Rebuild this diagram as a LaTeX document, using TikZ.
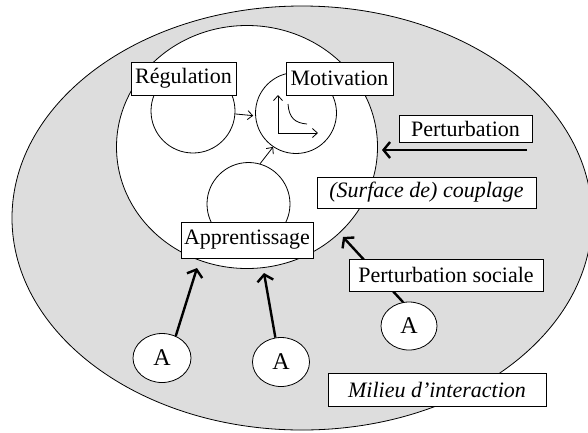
\documentclass[tikz,border=0pt]{standalone}
\usepackage{fontspec}
\setmainfont{Liberation Serif}
\usetikzlibrary{arrows.meta,shapes.geometric}
\definecolor{milieu}{RGB}{221,221,221}
\begin{document}
\begin{tikzpicture}[x=1pt,y=-1pt,
  outline/.style={draw=black,line width=0.8pt},
  labelbox/.style={outline,fill=white,inner sep=0pt,font=\fontsize{22}{26}\selectfont},
  zone/.style={outline,fill=white,circle,inner sep=0pt},
  agent/.style={outline,fill=white,ellipse,inner sep=0pt,font=\fontsize{24}{28}\selectfont},
  thinarrow/.style={line width=0.8pt,-{Straight Barb[length=5pt,width=9pt]}},
  thickarrow/.style={line width=2.4pt,-{Straight Barb[length=6.5pt,width=16pt]}}]
\useasboundingbox (0,0) rectangle (588,432);

% environment and coupling surface
\begin{scope}
  \clip (0,0) rectangle (588,432);
  \draw[outline,fill=milieu] (302,218) ellipse [x radius=290, y radius=212];
\end{scope}
\draw[outline,fill=white] (247,147) ellipse [x radius=130.5, y radius=121.5];

% inner sub-systems
\node[zone,minimum size=84pt] (rc) at (193,111) {};
\node[zone,minimum size=81pt] (mc) at (296,113) {};
\node[zone,minimum size=83pt] (ac) at (248.5,204) {};

% agents
\node[agent,minimum width=58pt,minimum height=49pt] (a1) at (162,358) {A};
\node[agent,minimum width=57pt,minimum height=49pt] (a2) at (281,362) {A};
\node[agent,minimum width=56pt,minimum height=48pt] (a3) at (409,326) {A};

% motivation curve and axes
\coordinate (o) at (278,133);
\coordinate (yax) at (278,95);
\coordinate (xax) at (318,133);
\draw[thinarrow] (o) -- (yax);
\draw[thinarrow] (o) -- (xax);
\draw[line width=0.8pt] (288,104) .. controls (289,118) and (295,123) .. (307,124);

% internal links
\draw[thinarrow,shorten >=2pt] (rc.-4) -- (mc.184);
\draw[thinarrow] (ac.74) -- (mc.236);

% perturbations
\coordinate (ps) at (527,150);
\coordinate (pe) at (382,150);
\draw[thickarrow] (ps) -- (pe);
\coordinate (t1) at (197,268);
\coordinate (t2) at (264,273);
\coordinate (t3) at (343,237);
\draw[thickarrow] (a1.58) -- (t1);
\draw[thickarrow] (a2.103) -- (t2);
\draw[thickarrow] (a3.104) -- (t3);

% labels
\node[labelbox,minimum width=105pt,minimum height=33pt] (reg) at (183.5,78.5) {Régulation};
\node[labelbox,minimum width=107pt,minimum height=33pt] (mot) at (339.5,78.5) {Motivation};
\node[labelbox,minimum width=133pt,minimum height=27pt] (pert) at (465.5,128.5) {Perturbation};
\node[labelbox,minimum width=219pt,minimum height=31pt] (coup) at (426.5,192.5) {\itshape (Surface de) couplage};
\node[labelbox,minimum width=132pt,minimum height=36pt] (app) at (247,240) {Apprentissage};
\node[labelbox,minimum width=194pt,minimum height=32pt] (psoc) at (446,275) {Perturbation sociale};
\node[labelbox,minimum width=218pt,minimum height=33pt] (mil) at (437,389.5) {\itshape Milieu d’interaction};
\end{tikzpicture}
\end{document}
